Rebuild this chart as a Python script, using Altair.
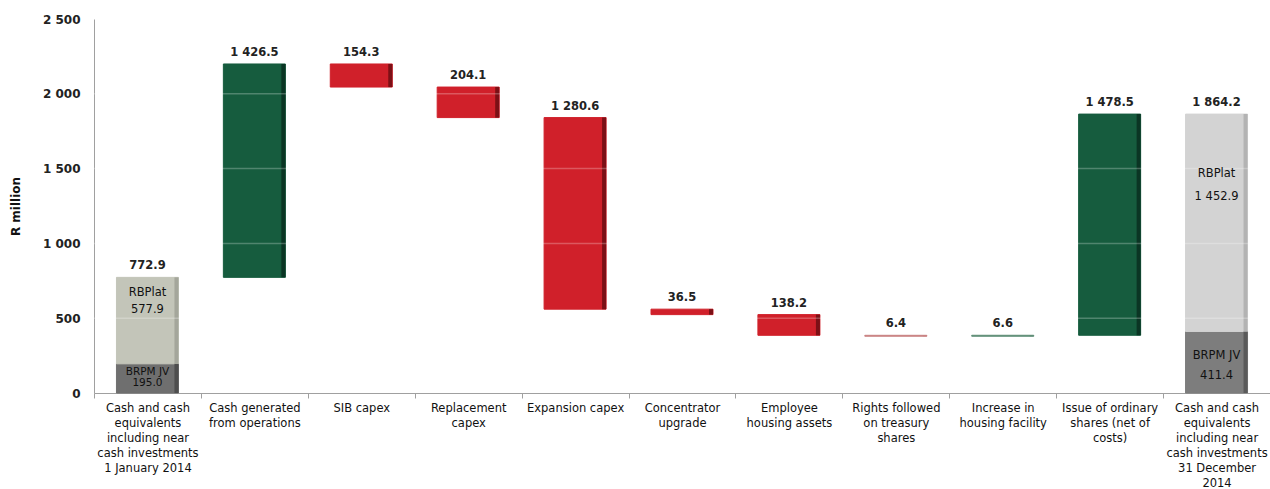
import altair as alt
import pandas as pd

categories = [
    "Cash and cash|equivalents|including near|cash investments|1 January 2014",
    "Cash generated|from operations",
    "SIB capex",
    "Replacement|capex",
    "Expansion capex",
    "Concentrator|upgrade",
    "Employee|housing assets",
    "Rights followed|on treasury|shares",
    "Increase in|housing facility",
    "Issue of ordinary|shares (net of|costs)",
    "Cash and cash|equivalents|including near|cash investments|31 December|2014",
]
amounts = [772.9, 1426.5, 154.3, 204.1, 1280.6, 36.5, 138.2, 6.4, 6.6, 1478.5, 1864.2]
kinds = ["total", "up", "down", "down", "down", "down", "down", "down", "up", "up", "total"]
segment_names = ["BRPM JV", "RBPlat"]
opening_split = [195.0, 577.9]
closing_split = [411.4, 1452.9]
grid_values = [500, 1000, 1500, 2000]
tick_values = [0, 500, 1000, 1500, 2000, 2500]

FILL = {"jv_open": "#6f6f6f", "rb_open": "#c3c5b9", "jv_close": "#7d7d7d", "rb_close": "#d3d3d3",
        "up": "#165c3e", "down": "#d0202a", "up_small": "#5f8e77", "down_small": "#c98282"}
EDGE = {"jv_open": "#4e4e4e", "rb_open": "#a4a69b", "jv_close": "#5a5a5a", "rb_close": "#b3b3b3",
        "up": "#0b3524", "down": "#7c1016", "up_small": "#5f8e77", "down_small": "#c98282"}

rows, tops = [], []
level = 0.0
for i, (cat, amt, kind) in enumerate(zip(categories, amounts, kinds)):
    if kind == "total":
        split = opening_split if i == 0 else closing_split
        suffix = "_open" if i == 0 else "_close"
        base = 0.0
        for name, v in zip(segment_names, split):
            st = ("jv" if name == "BRPM JV" else "rb") + suffix
            rows.append(dict(cat=cat, y0=base, y1=base + v, fill=FILL[st], edge=EDGE[st]))
            base += v
        level = amt
        tops.append(dict(cat=cat, top=amt, amt=amt))
    else:
        st = kind + ("_small" if amt < 10 else "")
        if kind == "up":
            y0, y1 = level, level + amt
            level += amt
        else:
            y0, y1 = level - amt, level
            level -= amt
        rows.append(dict(cat=cat, y0=y0, y1=y1, fill=FILL[st], edge=EDGE[st]))
        tops.append(dict(cat=cat, top=y1, amt=amt))

bars_df = pd.DataFrame(rows)
tops_df = pd.DataFrame(tops)

W, H = 1176, 374
xenc = alt.X("cat:N", sort=categories, scale=alt.Scale(paddingInner=0, paddingOuter=0),
             axis=alt.Axis(title=None, labelAngle=0, labelExpr="split(datum.label, '|')",
                           labelBaseline="top", labelLineHeight=15, labelFontSize=11.5,
                           labelColor="#111", tickBand="extent", tickSize=5, tickColor="#a0a0a0",
                           domainColor="#a0a0a0", labelPadding=4, labelLimit=200))
yscale = alt.Scale(domain=[0, 2500], nice=False)
yenc = alt.Y("y0:Q", scale=yscale,
             axis=alt.Axis(title="R million", values=tick_values, grid=False, ticks=False,
                           domainColor="#a0a0a0", labelPadding=14, labelFontSize=12,
                           labelFontWeight="bold", labelColor="#222",
                           labelExpr="replace(format(datum.value, ','), ',', ' ')",
                           titleFontSize=12, titleFontWeight="bold", titleColor="#111",
                           titleX=-79, titleY=H / 2, titleAngle=-90, titleBaseline="middle"))

base = alt.Chart(bars_df)
bars = base.mark_bar(width=62, strokeWidth=1).encode(
    x=xenc, y=yenc, y2="y1:Q",
    color=alt.Color("fill:N", scale=None), stroke=alt.Stroke("fill:N", scale=None))
edges = base.mark_bar(width=4, xOffset=29).encode(
    x=alt.X("cat:N", sort=categories), y="y0:Q", y2="y1:Q",
    color=alt.Color("edge:N", scale=None))

grid = alt.Chart(pd.DataFrame({"g": grid_values})).mark_rule(
    color="white", opacity=0.25, strokeWidth=1.5).encode(
    y=alt.Y("g:Q", scale=yscale), x=alt.value(0), x2=alt.value(W))

top_labels = alt.Chart(tops_df).transform_calculate(
    txt="replace(format(datum.amt, ',.1f'), ',', ' ')"
).mark_text(dy=-11, fontSize=11.5, fontWeight="bold", color="#222", baseline="middle").encode(
    x=alt.X("cat:N", sort=categories), y=alt.Y("top:Q", scale=yscale), text="txt:N")


def seg_label(cat, anchor, text, dy, size=11.5):
    df = pd.DataFrame({"cat": [cat], "a": [anchor], "t": [text]})
    return alt.Chart(df).mark_text(dy=dy, fontSize=size, color="#111", baseline="middle").encode(
        x=alt.X("cat:N", sort=categories), y=alt.Y("a:Q", scale=yscale), text="t:N")


def fmt(v):
    return f"{v:,.1f}".replace(",", " ")


open_top = opening_split[0] + opening_split[1]
close_top = closing_split[0] + closing_split[1]
labels = [
    seg_label(categories[0], open_top, segment_names[1], 16),
    seg_label(categories[0], open_top, fmt(opening_split[1]), 33),
    seg_label(categories[0], opening_split[0], segment_names[0], 8, 10.5),
    seg_label(categories[0], opening_split[0], fmt(opening_split[0]), 19, 10.5),
    seg_label(categories[-1], close_top, segment_names[1], 60),
    seg_label(categories[-1], close_top, fmt(closing_split[1]), 83),
    seg_label(categories[-1], closing_split[0], segment_names[0], 25),
    seg_label(categories[-1], closing_split[0], fmt(closing_split[0]), 45),
]

chart = alt.layer(bars, edges, grid, top_labels, *labels).properties(
    width=W, height=H, autosize="none",
    padding={"left": 94, "top": 19, "right": 0, "bottom": 96},
).configure(font="DejaVu Sans").configure_view(stroke=None)

chart.save("out.html", embed_options={"renderer": "svg", "actions": False})
